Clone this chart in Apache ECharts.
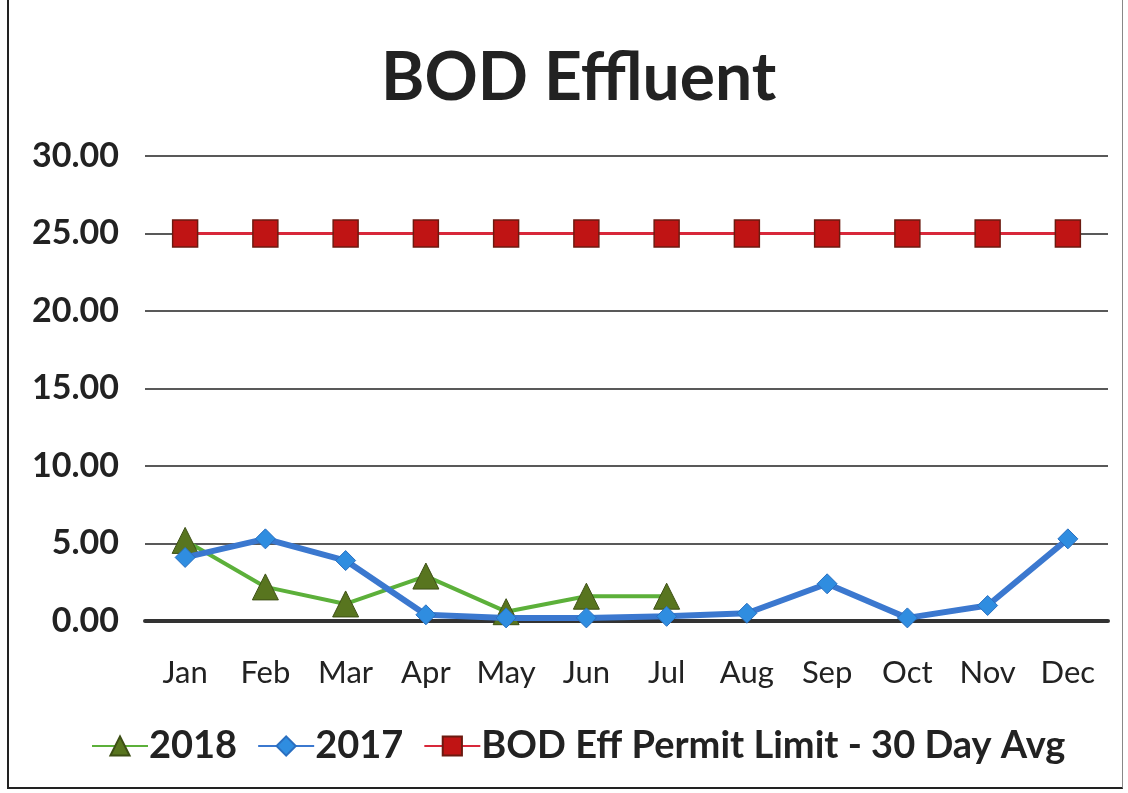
<!DOCTYPE html>
<html>
<head>
<meta charset="utf-8">
<script src="https://cdn.jsdelivr.net/npm/echarts@6/dist/echarts.min.js"></script>
<style>
  html, body { margin: 0; padding: 0; background: #fff; }
  #chart { width: 1128px; height: 793px; }
  .frame { position: absolute; left: 7px; top: 0; width: 1116px; height: 789px; border: 2px solid #222; border-top: none; border-right: 1px solid #888; box-sizing: border-box; pointer-events: none; }
</style>
</head>
<body>
<div id="chart"></div>
<div class="frame"></div>
<script>
// months on the x axis
const months = ['Jan', 'Feb', 'Mar', 'Apr', 'May', 'Jun', 'Jul', 'Aug', 'Sep', 'Oct', 'Nov', 'Dec']
// 2018 only runs to July
const values2018 = [5.2, 2.2, 1.1, 2.9, 0.6, 1.6, 1.6]
const values2017 = [4.1, 5.3, 3.9, 0.4, 0.2, 0.2, 0.3, 0.5, 2.4, 0.2, 1.0, 5.3]
const permitLimit = [25, 25, 25, 25, 25, 25, 25, 25, 25, 25, 25, 25]

const font = 'Lato, "Open Sans", sans-serif'

const chart = echarts.init(document.getElementById('chart'))

const option = {
  animation: false,
  title: {
    text: 'BOD Effluent',
    left: 376,
    top: 41,
    textStyle: { fontFamily: font, fontSize: 66, fontWeight: 'bold', color: '#222' }
  },
  legend: {
    data: ['2018', '2017', 'BOD Eff Permit Limit - 30 Day Avg'],
    left: 86,
    top: 722,
    itemWidth: 56,
    itemHeight: 24,
    itemGap: 20,
    textStyle: { fontFamily: font, fontSize: 38, fontWeight: 'bold', color: '#222', padding: [0, 0, 0, -4] }
  },
  grid: {
    left: 145,
    right: 20,
    top: 156,
    bottom: 172,
    containLabel: false
  },
  xAxis: {
    type: 'category',
    data: months,
    boundaryGap: true,
    axisTick: { show: false },
    axisLine: { lineStyle: { color: '#333', width: 4 } },
    axisLabel: { fontFamily: font, fontSize: 31, color: '#222', margin: 36, interval: 0 }
  },
  yAxis: {
    type: 'value',
    min: 0,
    max: 30,
    interval: 5,
    axisLine: { show: false },
    axisTick: { show: false },
    axisLabel: {
      fontFamily: font, fontSize: 34, fontWeight: 'bold', color: '#222', margin: 26,
      formatter: v => v.toFixed(2)
    },
    splitLine: { lineStyle: { color: '#222', width: 1.5 } }
  },
  series: [
    {
      name: '2018',
      type: 'line',
      data: values2018,
      symbol: 'triangle',
      symbolSize: 26,
      itemStyle: { color: '#58751f', borderColor: '#3d4f15', borderWidth: 1 },
      lineStyle: { color: '#5cb03a', width: 4 },
      z: 3
    },
    {
      name: '2017',
      type: 'line',
      data: values2017,
      symbol: 'diamond',
      symbolSize: 20,
      itemStyle: { color: '#2f8de0', borderColor: '#2a6fc0', borderWidth: 1 },
      lineStyle: { color: '#3b78cf', width: 6 },
      z: 4
    },
    {
      name: 'BOD Eff Permit Limit - 30 Day Avg',
      type: 'line',
      data: permitLimit,
      symbol: 'rect',
      symbolSize: [25, 27],
      itemStyle: { color: '#c01414', borderColor: '#6b1a10', borderWidth: 1.5 },
      lineStyle: { color: '#d8283a', width: 3 },
      z: 2
    }
  ]
}

chart.setOption(option)
</script>
</body>
</html>
